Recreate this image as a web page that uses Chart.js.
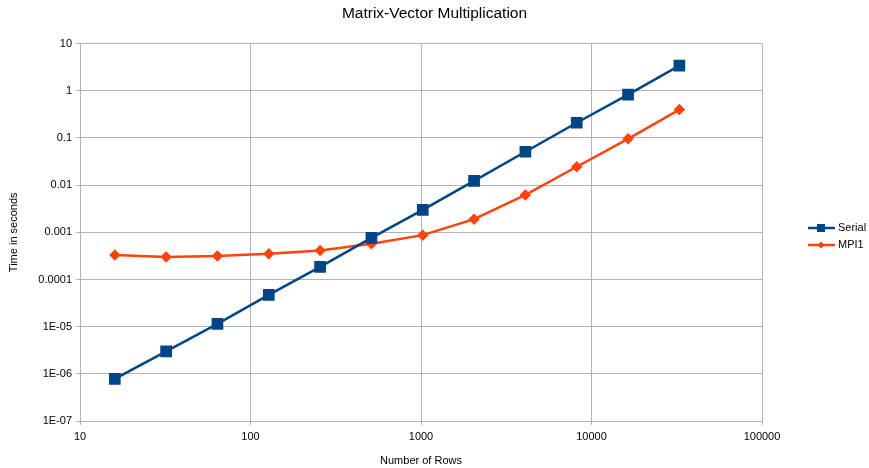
<!DOCTYPE html>
<html>
<head>
<meta charset="utf-8">
<script src="https://cdn.jsdelivr.net/npm/chart.js@4"></script>
<style>
  html, body { margin: 0; padding: 0; background: #fff; }
  #wrap { width: 869px; height: 468px; }
</style>
</head>
<body>
<div id="wrap"><canvas id="myChart" width="869" height="468"></canvas></div>
<script>
// data
const rows = [16, 32, 64, 128, 256, 512, 1024, 2048, 4096, 8192, 16384, 32768];
const serial = [7.8e-7, 3.0e-6, 1.15e-5, 4.7e-5, 1.85e-4, 7.6e-4, 3.0e-3, 0.0123, 0.051, 0.21, 0.83, 3.4];
const mpi1 = [3.3e-4, 3.0e-4, 3.15e-4, 3.5e-4, 4.1e-4, 5.7e-4, 8.7e-4, 1.9e-3, 6.2e-3, 0.0245, 0.096, 0.40];
const xTickValues = [10, 100, 1000, 10000, 100000];
const xTickLabels = ["10", "100", "1000", "10000", "100000"];
const yTickValues = [1e-7, 1e-6, 1e-5, 1e-4, 1e-3, 0.01, 0.1, 1, 10];
const yTickLabels = ["1E-07", "1E-06", "1E-05", "0.0001", "0.001", "0.01", "0.1", "1", "10"];

const FONT = "'Liberation Sans', Arial, sans-serif";
const gridColor = "#b3b3b3";

// legend drawn as line + marker, like the spreadsheet one
const sideLegend = {
  id: "sideLegend",
  afterDraw(chart) {
    const ctx = chart.ctx;
    ctx.save();
    chart.data.datasets.forEach((ds, i) => {
      const y = 228 + i * 17;
      ctx.strokeStyle = ds.borderColor;
      ctx.lineWidth = 2.5;
      ctx.beginPath();
      ctx.moveTo(808, y);
      ctx.lineTo(835, y);
      ctx.stroke();
      ctx.fillStyle = ds.backgroundColor;
      if (ds.pointStyle === "rect") {
        ctx.fillRect(817, y - 4, 8, 8);
      } else {
        ctx.beginPath();
        ctx.moveTo(821, y - 3.5);
        ctx.lineTo(824.5, y);
        ctx.lineTo(821, y + 3.5);
        ctx.lineTo(817.5, y);
        ctx.closePath();
        ctx.fill();
      }
      ctx.fillStyle = "#000";
      ctx.font = "11px " + FONT;
      ctx.textBaseline = "middle";
      ctx.fillText(ds.label, 838, y);
    });
    ctx.restore();
  },
};

const config = {
  type: "line",
  data: {
    datasets: [
      {
        label: "Serial",
        data: rows.map((r, i) => ({ x: r, y: serial[i] })),
        borderColor: "#004586",
        backgroundColor: "#004586",
        borderWidth: 2.5,
        pointStyle: "rect",
        pointRadius: 6.5,
        pointHoverRadius: 6.5,
      },
      {
        label: "MPI1",
        data: rows.map((r, i) => ({ x: r, y: mpi1[i] })),
        borderColor: "#ff420e",
        backgroundColor: "#ff420e",
        borderWidth: 2.5,
        pointStyle: "rectRot",
        pointRadius: 4,
        pointHoverRadius: 4,
      },
    ],
  },
  options: {
    responsive: false,
    animation: false,
    layout: { padding: 0 },
    plugins: {
      legend: { display: false },
      tooltip: { enabled: false },
      title: {
        display: true,
        text: "Matrix-Vector Multiplication",
        color: "#000",
        font: { family: FONT, size: 15.5, weight: "normal" },
        padding: { top: 4, bottom: 21 },
      },
    },
    scales: {
      x: {
        type: "logarithmic",
        min: 10,
        max: 100000,
        afterBuildTicks: (scale) => {
          scale.ticks = xTickValues.map((v) => ({ value: v }));
        },
        afterFit: (scale) => {
          scale.height = 47;
        },
        ticks: {
          autoSkip: false,
          maxRotation: 0,
          padding: 5,
          color: "#000",
          font: { family: FONT, size: 11 },
          callback: (value) => xTickLabels[xTickValues.indexOf(value)],
        },
        grid: { color: gridColor, tickLength: 4, tickColor: gridColor },
        border: { color: gridColor },
        title: {
          display: true,
          text: "Number of Rows",
          color: "#000",
          font: { family: FONT, size: 11 },
          padding: { top: 0, bottom: 0 },
        },
      },
      y: {
        type: "logarithmic",
        min: 1e-7,
        max: 10,
        afterBuildTicks: (scale) => {
          scale.ticks = yTickValues.map((v) => ({ value: v }));
        },
        afterFit: (scale) => {
          scale.width = 80;
        },
        ticks: {
          autoSkip: false,
          padding: 4,
          color: "#000",
          font: { family: FONT, size: 11 },
          callback: (value) => yTickLabels[yTickValues.indexOf(value)],
        },
        grid: { color: gridColor, tickLength: 4, tickColor: gridColor },
        border: { color: gridColor },
        title: {
          display: true,
          text: "Time in seconds",
          color: "#000",
          font: { family: FONT, size: 11 },
          padding: { top: 7, bottom: 0 },
        },
      },
      // empty axis on the right that only keeps room for the legend
      legendSpace: {
        type: "linear",
        position: "right",
        min: 0,
        max: 1,
        afterFit: (scale) => {
          scale.width = 107;
        },
        ticks: { display: false },
        grid: { display: false, drawTicks: false },
        border: { display: false },
      },
    },
  },
  plugins: [sideLegend],
};

const myChart = new Chart(document.getElementById("myChart"), config);
</script>
</body>
</html>
